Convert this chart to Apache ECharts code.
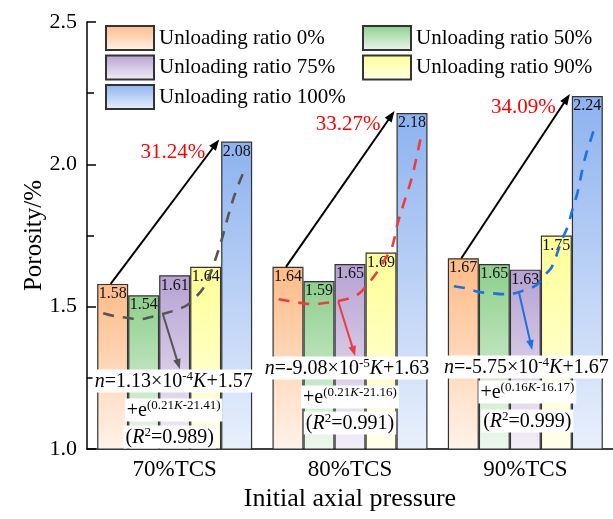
<!DOCTYPE html>
<html>
<head>
<meta charset="utf-8">
<script src="https://cdn.jsdelivr.net/npm/echarts@6/dist/echarts.min.js"></script>
<style>html,body{margin:0;padding:0;background:#fff}#c{width:613px;height:519px}</style>
</head>
<body>
<div id="c"></div>
<script>
// ---------- data ----------
const categories = ['70%TCS', '80%TCS', '90%TCS'];
const seriesNames = ['Unloading ratio 0%', 'Unloading ratio 50%', 'Unloading ratio 75%', 'Unloading ratio 90%', 'Unloading ratio 100%'];
const ratio0 = [1.58, 1.64, 1.67];
const ratio50 = [1.54, 1.59, 1.65];
const ratio75 = [1.61, 1.65, 1.63];
const ratio90 = [1.64, 1.69, 1.75];
const ratio100 = [2.08, 2.18, 2.24];
const yTicks = [1.0, 1.5, 2.0, 2.5];
const increaseLabels = ['31.24%', '33.27%', '34.09%'];

// fitted curves (unloading ratio K, porosity n)
const fitK70 = [0, 8, 18, 26, 33, 42, 51, 59, 65, 70, 75, 80, 84, 87, 93, 100];
const fitN70 = [1.477, 1.467, 1.460, 1.456, 1.463, 1.474, 1.488, 1.505, 1.533, 1.561, 1.61, 1.68, 1.744, 1.80, 1.898, 1.986];
const fitK80 = [0, 8, 17, 24, 31, 41, 50, 57, 64, 69, 76, 80, 84, 89, 94, 100];
const fitN80 = [1.526, 1.519, 1.512, 1.509, 1.512, 1.519, 1.530, 1.547, 1.586, 1.618, 1.674, 1.709, 1.793, 1.874, 1.954, 2.088];
const fitK90 = [0, 8, 18, 27, 34, 43, 51, 58, 64, 69, 76, 80, 84, 87, 89, 92, 94, 97, 100];
const fitN90 = [1.572, 1.565, 1.551, 1.547, 1.544, 1.547, 1.561, 1.575, 1.611, 1.639, 1.733, 1.779, 1.849, 1.898, 1.944, 2.014, 2.049, 2.095, 2.144];
// point on each curve where the pointer arrow starts
const pointerK = [42, 42, 46];
const pointerN = [1.474, 1.519, 1.547];

// equation texts
const eqCoef = ['=1.13×10', '=-9.08×10', '=-5.75×10'];
const eqPow = ['-4', '-5', '-4'];
const eqConst = ['+1.57', '+1.63', '+1.67'];
const eqExpA = ['(0.21', '(0.21', '(0.16'];
const eqExpB = ['-21.41)', '-21.16)', '-16.17)'];
const eqR2 = ['0.989', '0.991', '0.999'];

// ---------- style / layout ----------
const FONT = 'Liberation Serif';
const BAR_W = 31;
const FIT_START = -0.4074, FIT_SPAN = 0.809;
const fitColors = ['#555555', '#ef3b3b', '#1f70e0'];
const eqLineDy = [[-68, -39, -12], [-81, -52, -26], [-82, -57, -28]];
const eqLineDx = [[-1, -1, -5], [-3, 0, 0], [1, 2, 2]];
const pointerDx = [17, 17, 13];
const pointerEndDy = [-12, -12, -17];

function grad(top, bottom) {
  return new echarts.graphic.LinearGradient(0, 0, 0, 1, [
    { offset: 0, color: top }, { offset: 1, color: bottom }
  ]);
}
const barColors = [
  grad('#fdbb86', '#fff3ea'),
  grad('#8ccf8a', '#eef8ee'),
  grad('#b6a1d2', '#f3eff8'),
  grad('#ffff96', '#ffffea'),
  grad('#8db2ef', '#e9f0fc')
];
const values = [ratio0, ratio50, ratio75, ratio90, ratio100];

function arrow(x0, y0, x1, y1, color, w, hl) {
  const dx = x1 - x0, dy = y1 - y0, L = Math.hypot(dx, dy);
  const ux = dx / L, uy = dy / L, hw = hl * 0.38;
  const bx = x1 - ux * hl, by = y1 - uy * hl;
  return [
    { type: 'line', shape: { x1: x0, y1: y0, x2: bx + ux * 2, y2: by + uy * 2 }, style: { stroke: color, lineWidth: w } },
    { type: 'polygon', shape: { points: [[x1, y1], [bx - uy * hw, by + ux * hw], [bx + uy * hw, by - ux * hw]] }, style: { fill: color } }
  ];
}

const richBase = {
  r: { fontSize: 20, fontFamily: FONT, lineHeight: 22, fill: '#000' },
  i: { fontSize: 20, fontFamily: FONT, fontStyle: 'italic', lineHeight: 22, fill: '#000' },
  s: { fontSize: 13, fontFamily: FONT, lineHeight: 14, verticalAlign: 'top', fill: '#000' },
  si: { fontSize: 13, fontFamily: FONT, fontStyle: 'italic', lineHeight: 14, verticalAlign: 'top', fill: '#000' }
};

function renderAnno(params, api) {
  const g = api.value(0);
  const base = api.coord([g, 1.0]);
  const cx = base[0], yBase = base[1];
  const left = cx - 2.5 * BAR_W;
  const yO = api.coord([g, ratio0[g]])[1];
  const yB = api.coord([g, ratio100[g]])[1];
  const children = [];
  // black growth arrow
  arrow(left + 0.5 * BAR_W - 2, yO, left + 4 * BAR_W - 2, yB - 2, '#000', 2, 11).forEach(e => children.push(e));
  children.push({
    type: 'text',
    style: { text: increaseLabels[g], x: left + 4 * BAR_W - 16, y: yB + 11, align: 'right', verticalAlign: 'middle',
      fill: '#ff0000', fontSize: 21, fontFamily: FONT }
  });
  // pointer arrow from curve to equation
  const p = api.coord([g + FIT_START + pointerK[g] / 100 * FIT_SPAN, pointerN[g]]);
  arrow(p[0], p[1], p[0] + pointerDx[g], yBase + eqLineDy[g][0] + pointerEndDy[g], fitColors[g], 2, 10).forEach(e => children.push(e));
  // equation lines
  const lines = [
    '{i|n}{r|' + eqCoef[g] + '}{s|' + eqPow[g] + '}{i|K}{r|' + eqConst[g] + '}',
    '{r|+e}{s|' + eqExpA[g] + '}{si|K}{s|' + eqExpB[g] + '}',
    '{r|(}{i|R}{s|2}{r|=' + eqR2[g] + ')}'
  ];
  lines.forEach((t, k) => {
    children.push({
      type: 'text',
      style: { text: t, rich: richBase, x: cx + eqLineDx[g][k], y: yBase + eqLineDy[g][k], align: 'center', verticalAlign: 'middle',
        backgroundColor: '#ffffff', padding: [1, 2, 0, 2], fontSize: 20, fontFamily: FONT }
    });
  });
  return { type: 'group', children };
}

const series = [];
seriesNames.forEach((name, i) => {
  series.push({
    type: 'bar', name, data: values[i], barWidth: BAR_W, barGap: '0%',
    itemStyle: { color: barColors[i], borderColor: '#333', borderWidth: 1.2 },
    label: { show: true, position: 'insideTop', distance: 2, fontSize: 16, fontFamily: FONT, color: '#111' },
    z: 2
  });
});
[[fitK70, fitN70], [fitK80, fitN80], [fitK90, fitN90]].forEach((pair, g) => {
  series.push({
    type: 'line', xAxisIndex: 1, yAxisIndex: 0, smooth: 0.35, symbol: 'none', silent: true, z: 5,
    data: pair[0].map((k, i) => [g + FIT_START + k / 100 * FIT_SPAN, pair[1][i]]),
    lineStyle: { color: fitColors[g], width: 2.6, type: [11, 9] }
  });
});
series.push({ type: 'custom', xAxisIndex: 1, yAxisIndex: 0, data: [[0], [1], [2]], renderItem: renderAnno, z: 10, silent: true, clip: false });

const legendCommon = {
  orient: 'vertical', top: 20, itemWidth: 48, itemHeight: 24, itemGap: 3.5, icon: 'rect',
  selectedMode: false,
  textStyle: { fontSize: 21, fontFamily: FONT, color: '#000' }
};

const chart = echarts.init(document.getElementById('c'), null, { renderer: 'canvas' });
chart.setOption({
  animation: false,
  backgroundColor: '#fff',
  grid: { left: 87, right: 0, top: 22, bottom: 70 },
  legend: [
    Object.assign({ left: 100, data: [seriesNames[0], seriesNames[2], seriesNames[4]] }, legendCommon),
    Object.assign({ left: 357, data: [seriesNames[1], seriesNames[3]] }, legendCommon)
  ],
  xAxis: [
    {
      type: 'category', data: categories,
      axisLine: { onZero: false, lineStyle: { color: '#000', width: 1.5 } },
      axisTick: { show: false },
      axisLabel: { fontSize: 23, fontFamily: FONT, color: '#000', margin: 9 },
      name: 'Initial axial pressure', nameLocation: 'middle', nameGap: 37, nameMoveOverlap: false,
      nameTextStyle: { fontSize: 26, fontFamily: FONT, color: '#000' }
    },
    { type: 'value', min: -0.5, max: 2.5, show: false }
  ],
  yAxis: {
    type: 'value', min: yTicks[0], max: yTicks[yTicks.length - 1], interval: 0.5,
    axisLine: { show: true, onZero: false, lineStyle: { color: '#000', width: 1.5 } },
    axisTick: { show: true, inside: true, length: 9, lineStyle: { color: '#000', width: 1.5 } },
    minorTick: { show: true, splitNumber: 2, length: 7, lineStyle: { color: '#000', width: 1.5 } },
    splitLine: { show: false },
    axisLabel: { formatter: v => v.toFixed(1), fontSize: 22, fontFamily: FONT, color: '#000', margin: 10 },
    name: 'Porosity/%', nameLocation: 'middle', nameGap: 40, nameMoveOverlap: false,
    nameTextStyle: { fontSize: 25, fontFamily: FONT, color: '#000' }
  },
  series
});
</script>
</body>
</html>
